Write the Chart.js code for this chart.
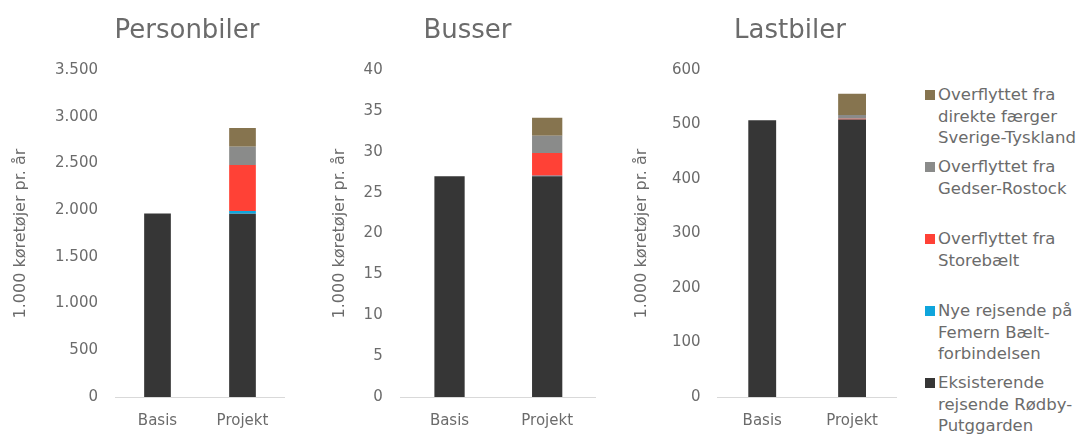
<!DOCTYPE html>
<html>
<head>
<meta charset="utf-8">
<script src="https://cdn.jsdelivr.net/npm/chart.js@4.4.1/dist/chart.umd.min.js"></script>
<style>
  body { margin: 0; background: #fff; font-family: "DejaVu Sans", sans-serif; }
  #page { position: relative; width: 1080px; height: 435px; overflow: hidden; }
  .box { position: absolute; top: 0; height: 435px; }
  .title { position: absolute; top: 14px; font-size: 26px; line-height: 30px; color: #6b6b6b; transform: translateX(-50%); white-space: nowrap; }
  .legend-item { position: absolute; left: 925px; font-size: 16.5px; line-height: 21.5px; color: #6b6b6b; }
  .legend-item .sw { position: absolute; left: 0; top: 6px; width: 10px; height: 10px; }
  .legend-item .txt { margin-left: 13px; white-space: pre; }
</style>
</head>
<body>
<div id="page"></div>
<script>
const categories = ['Basis', 'Projekt'];

// series, bottom of the stack first
const seriesNames = [
  'Eksisterende\nrejsende Rødby-\nPutggarden',
  'Nye rejsende på\nFemern Bælt-\nforbindelsen',
  'Overflyttet fra\nStorebælt',
  'Overflyttet fra\nGedser-Rostock',
  'Overflyttet fra\ndirekte færger\nSverige-Tyskland'
];
const seriesColors = ['#363636', '#0fa5dc', '#ff4136', '#8a8b8a', '#86744f'];

// values per series, [Basis, Projekt]
const personbilerValues = [[1965, 1962], [0, 29], [0, 492], [0, 196], [0, 200]];
const busserValues = [[27.0, 27.0], [0, 0.05], [0, 2.8], [0, 2.1], [0, 2.2]];
const lastbilerValues = [[508, 509], [0, 0], [0, 1.5], [0, 7], [0, 39]];

const chartTitles = ['Personbiler', 'Busser', 'Lastbiler'];
const yAxisTitle = '1.000 køretøjer pr. år';
const personbilerTicks = [0, 3500, 500];
const busserTicks = [0, 40, 5];
const lastbilerTicks = [0, 600, 100];

const textColor = '#6b6b6b';
const fontFamily = '"DejaVu Sans", sans-serif';

function fmt(v) {
  return String(v).replace(/\B(?=(\d{3})+(?!\d))/g, '.');
}

function makeChart(cfg) {
  const page = document.getElementById('page');
  const box = document.createElement('div');
  box.className = 'box';
  box.style.left = cfg.left + 'px';
  box.style.width = cfg.width + 'px';
  const canvas = document.createElement('canvas');
  canvas.width = cfg.width;
  canvas.height = 435;
  box.appendChild(canvas);
  page.appendChild(box);

  const t = document.createElement('div');
  t.className = 'title';
  t.style.left = cfg.titleX + 'px';
  t.textContent = cfg.title;
  page.appendChild(t);

  const datasets = seriesNames.map((name, i) => ({
    label: name,
    data: cfg.values[i],
    backgroundColor: seriesColors[i],
    borderWidth: 0,
    barPercentage: cfg.barPct,
    categoryPercentage: 1
  }));

  return new Chart(canvas.getContext('2d'), {
    type: 'bar',
    data: { labels: categories, datasets: datasets },
    options: {
      responsive: false,
      animation: false,
      layout: { padding: { top: 70, left: 0, right: 0, bottom: 0 } },
      plugins: { legend: { display: false }, tooltip: { enabled: false } },
      scales: {
        x: {
          stacked: true,
          grid: { display: false, drawTicks: false },
          border: { display: true, color: '#d9d9d9', width: 1 },
          ticks: { color: textColor, font: { family: fontFamily, size: 15 }, padding: 15 },
          afterFit: (s) => { s.height = 38; }
        },
        y: {
          stacked: true,
          min: cfg.ticks[0],
          max: cfg.ticks[1],
          grid: { display: false, drawTicks: false },
          border: { display: false },
          ticks: {
            stepSize: cfg.ticks[2],
            color: textColor,
            font: { family: fontFamily, size: 15 },
            padding: cfg.tickPad,
            callback: (v) => fmt(v)
          },
          title: {
            display: true,
            text: yAxisTitle,
            color: textColor,
            font: { family: fontFamily, size: 16 },
            padding: { top: cfg.titlePad, bottom: 0 }
          },
          afterFit: (s) => { s.width = cfg.axisWidth; }
        }
      }
    }
  });
}

makeChart({ left: 0, width: 285, axisWidth: 115, tickPad: 17, titlePad: 11.4, barPct: 0.314,
  title: chartTitles[0], titleX: 187, values: personbilerValues, ticks: personbilerTicks });
makeChart({ left: 320, width: 276, axisWidth: 80.7, tickPad: 18, titlePad: 10.4, barPct: 0.31,
  title: chartTitles[1], titleX: 467.5, values: busserValues, ticks: busserTicks });
makeChart({ left: 620, width: 277, axisWidth: 97.3, tickPad: 16.7, titlePad: 12.4, barPct: 0.31,
  title: chartTitles[2], titleX: 790, values: lastbilerValues, ticks: lastbilerTicks });

// legend, top entry = top of the stack
const page = document.getElementById('page');
seriesNames.slice().reverse().forEach((name, i) => {
  const idx = seriesNames.length - 1 - i;
  const item = document.createElement('div');
  item.className = 'legend-item';
  item.style.top = (84 + i * 72) + 'px';
  const sw = document.createElement('span');
  sw.className = 'sw';
  sw.style.background = seriesColors[idx];
  const txt = document.createElement('div');
  txt.className = 'txt';
  txt.textContent = name;
  item.appendChild(sw);
  item.appendChild(txt);
  page.appendChild(item);
});
</script>
</body>
</html>
